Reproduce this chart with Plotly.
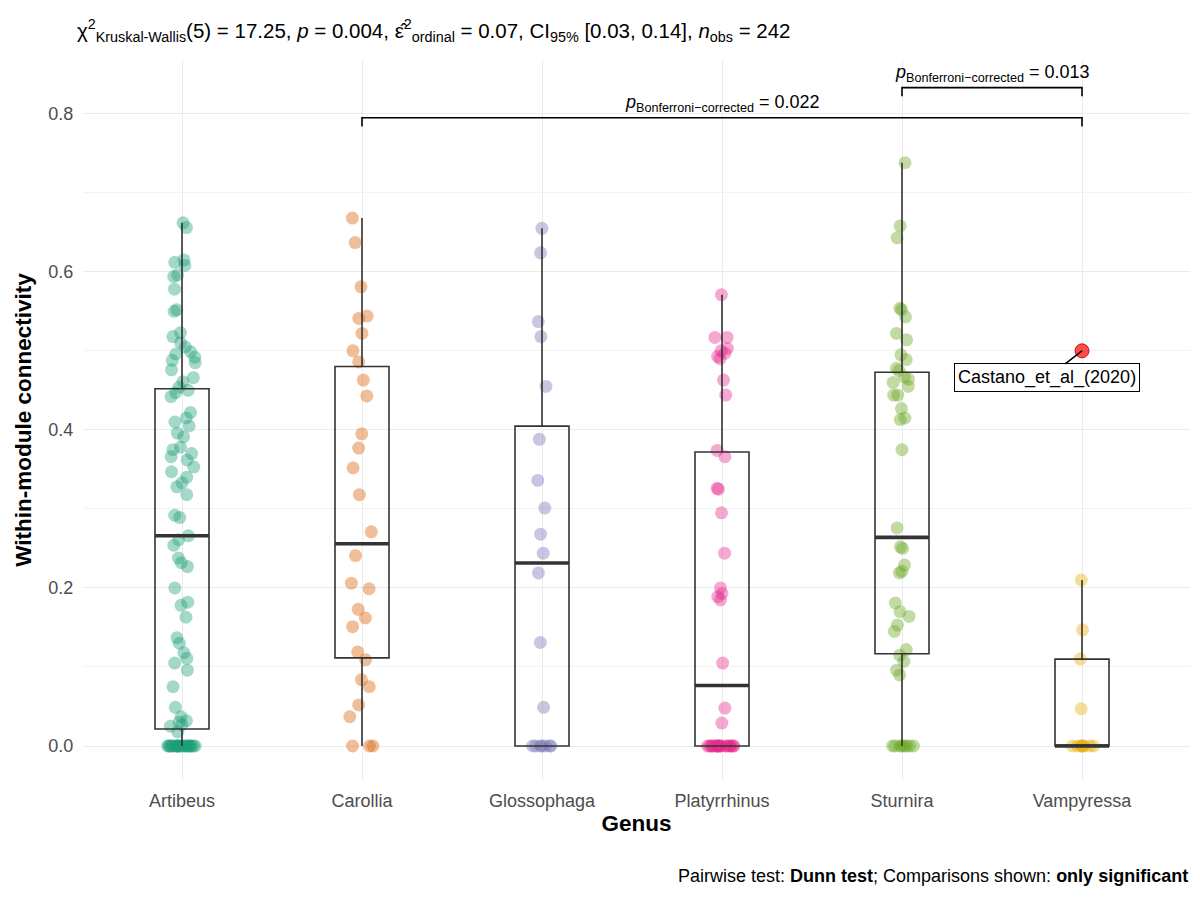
import numpy as np
import plotly.graph_objects as go

# ---------------- data ----------------
CATEGORIES = ["Artibeus", "Carollia", "Glossophaga", "Platyrrhinus", "Sturnira", "Vampyressa"]

artibeus = [0.0] * 22 + [
    0.018, 0.025, 0.027, 0.030, 0.032, 0.037, 0.049, 0.075, 0.096, 0.105, 0.111, 0.118,
    0.130, 0.137, 0.163, 0.178, 0.182, 0.200, 0.227, 0.232, 0.238, 0.254, 0.261,
    0.266,
    0.289, 0.292, 0.318, 0.328, 0.333, 0.340, 0.347, 0.353, 0.362, 0.366, 0.370,
    0.375, 0.378, 0.391, 0.396, 0.405, 0.410, 0.415, 0.422, 0.442, 0.447, 0.450, 0.454,
    0.461, 0.466, 0.476, 0.485, 0.488, 0.492, 0.496, 0.499, 0.505, 0.510, 0.518, 0.523,
    0.550, 0.552, 0.578, 0.594, 0.596, 0.608, 0.612, 0.615, 0.656, 0.662]
carollia = [0.0] * 3 + [
    0.037, 0.052, 0.075, 0.084, 0.109, 0.119, 0.151, 0.162, 0.173, 0.199, 0.206, 0.241,
    0.271, 0.318, 0.352, 0.377, 0.395, 0.443, 0.463, 0.486, 0.500, 0.522, 0.541, 0.544,
    0.581, 0.637, 0.668]
glossophaga = [0.0] * 7 + [
    0.049, 0.131, 0.219, 0.244, 0.268, 0.301, 0.336, 0.388, 0.455, 0.518, 0.537, 0.624, 0.655]
platyrrhinus = [0.0] * 19 + [
    0.029, 0.048, 0.105, 0.185, 0.189, 0.193, 0.200, 0.244, 0.295, 0.325, 0.326, 0.366,
    0.374, 0.444, 0.463, 0.490, 0.493, 0.497, 0.500, 0.503, 0.517, 0.517, 0.571]
sturnira = [0.0] * 8 + [
    0.090, 0.096, 0.107, 0.115, 0.122, 0.145, 0.153, 0.164, 0.170, 0.181, 0.219, 0.221,
    0.229, 0.250, 0.252, 0.276, 0.375, 0.413, 0.415, 0.427, 0.444, 0.444, 0.455, 0.460,
    0.464, 0.467, 0.475, 0.478, 0.489, 0.495, 0.514, 0.522, 0.543, 0.552, 0.554, 0.643,
    0.658, 0.738]
vampyressa = [0.0] * 8 + [0.047, 0.110, 0.147, 0.210, 0.500]

GROUP_VALUES = [artibeus, carollia, glossophaga, platyrrhinus, sturnira, vampyressa]
OUTLIER_LABELS = {5: "Castano_et_al_(2020)"}

COLORS = ["#1B9E77", "#D95F02", "#7570B3", "#E7298A", "#66A61E", "#E6AB02"]

TITLE = ("χ<sup>2</sup><sub>Kruskal-Wallis</sub>(5) = 17.25, <i>p</i> = 0.004, "
         "ε̂<sup>2</sup><sub>ordinal</sub> = 0.07, CI<sub>95%</sub> [0.03, 0.14], "
         "<i>n</i><sub>obs</sub> = 242")
CAPTION = "Pairwise test: <b>Dunn test</b>; Comparisons shown: <b>only significant</b>"
PAIRS = [(1, 5, "0.022"), (4, 5, "0.013")]

# ---------------- style ----------------
FONT = "Liberation Sans, Arial, sans-serif"
BOX_W = 0.3
BOX_LINE = "#333333"
BRACKET_Y = [0.795, 0.833]
BRACKET_TICK = 0.011

fig = go.Figure()

for i, (vals, col) in enumerate(zip(GROUP_VALUES, COLORS)):
    arr = np.array(vals, dtype=float)
    q1, med, q3 = np.percentile(arr, [25, 50, 75])
    iqr = q3 - q1
    is_in = (arr >= q1 - 1.5 * iqr) & (arr <= q3 + 1.5 * iqr)
    inside = arr[is_in]
    outl = arr[~is_in]
    lf, uf = inside.min(), inside.max()

    # jittered points (invisible box)
    fig.add_trace(go.Box(
        x=[i] * len(inside), y=inside, boxpoints="all", jitter=0.55, pointpos=0,
        width=BOX_W, fillcolor="rgba(0,0,0,0)", line=dict(width=0, color="rgba(0,0,0,0)"),
        whiskerwidth=0,
        marker=dict(color=col, opacity=0.4, size=13, line=dict(width=0)),
        hoverinfo="skip", showlegend=False))

    # box from computed stats
    fig.add_trace(go.Box(
        x=[i], q1=[q1], median=[med], q3=[q3], lowerfence=[lf], upperfence=[uf],
        boxpoints=False, width=BOX_W, whiskerwidth=0,
        fillcolor="rgba(0,0,0,0)", line=dict(color=BOX_LINE, width=1.6),
        hoverinfo="skip", showlegend=False))

    # thick median
    fig.add_trace(go.Scatter(
        x=[i - BOX_W / 2, i + BOX_W / 2], y=[med, med], mode="lines",
        line=dict(color=BOX_LINE, width=3.6), hoverinfo="skip", showlegend=False))

    # outliers
    if len(outl):
        fig.add_trace(go.Scatter(
            x=[i] * len(outl), y=outl, mode="markers",
            marker=dict(color="rgba(255,0,0,0.7)", size=14,
                        line=dict(color="rgba(200,0,0,0.9)", width=1)),
            hoverinfo="skip", showlegend=False))
        if i in OUTLIER_LABELS:
            fig.add_annotation(
                x=i, y=float(outl[0]), text=OUTLIER_LABELS[i], showarrow=True,
                arrowhead=0, arrowwidth=1.6, arrowcolor="black", ax=-35, ay=27,
                font=dict(family=FONT, size=18, color="black"),
                bgcolor="white", bordercolor="black", borderwidth=1, borderpad=3)

# pairwise brackets
for (a, b, pv), yb in zip(PAIRS, BRACKET_Y):
    fig.add_trace(go.Scatter(
        x=[a, a, b, b], y=[yb - BRACKET_TICK, yb, yb, yb - BRACKET_TICK], mode="lines",
        line=dict(color="black", width=1.6), hoverinfo="skip", showlegend=False))
    fig.add_annotation(
        x=(a + b) / 2, y=yb, yanchor="bottom", yshift=1, showarrow=False,
        text="<i>p</i><sub>Bonferroni−corrected</sub> = " + pv,
        font=dict(family=FONT, size=18, color="black"))

fig.add_annotation(
    xref="paper", yref="paper", x=-0.007, y=1.0, yshift=30, xanchor="left", yanchor="middle",
    text=TITLE, showarrow=False, font=dict(family=FONT, size=20.5, color="black"))
fig.add_annotation(
    xref="paper", yref="paper", x=1.0, y=0, yshift=-96, xanchor="right", yanchor="middle",
    text=CAPTION, showarrow=False, font=dict(family=FONT, size=18, color="black"))

fig.update_layout(
    width=1200, height=900,
    margin=dict(l=83, r=10, t=60, b=120),
    paper_bgcolor="white", plot_bgcolor="white",
    font=dict(family=FONT),
    boxmode="overlay",
    xaxis=dict(
        range=[-0.55, 5.6], tickvals=list(range(len(CATEGORIES))), ticktext=CATEGORIES,
        showgrid=True, gridcolor="#EBEBEB", gridwidth=1.2, zeroline=False,
        showline=False, ticks="outside", ticklen=4, tickcolor="rgba(0,0,0,0)",
        tickfont=dict(size=18, color="#4D4D4D"),
        title=dict(text="<b>Genus</b>", font=dict(size=22.5, color="black"), standoff=5)),
    yaxis=dict(
        range=[-0.043, 0.868], tickvals=[0, 0.2, 0.4, 0.6, 0.8],
        ticktext=["0.0", "0.2", "0.4", "0.6", "0.8"],
        showgrid=True, gridcolor="#EBEBEB", gridwidth=1.2, zeroline=False,
        showline=False, ticks="outside", ticklen=5, tickcolor="rgba(0,0,0,0)",
        tickfont=dict(size=18, color="#4D4D4D"),
        minor=dict(tickvals=[0.1, 0.3, 0.5, 0.7], showgrid=True,
                   gridcolor="#F3F3F3", gridwidth=0.8),
        title=dict(text="<b>Within-module connectivity</b>",
                   font=dict(size=22.5, color="black"), standoff=10)),
)

fig.write_html("out.html")
